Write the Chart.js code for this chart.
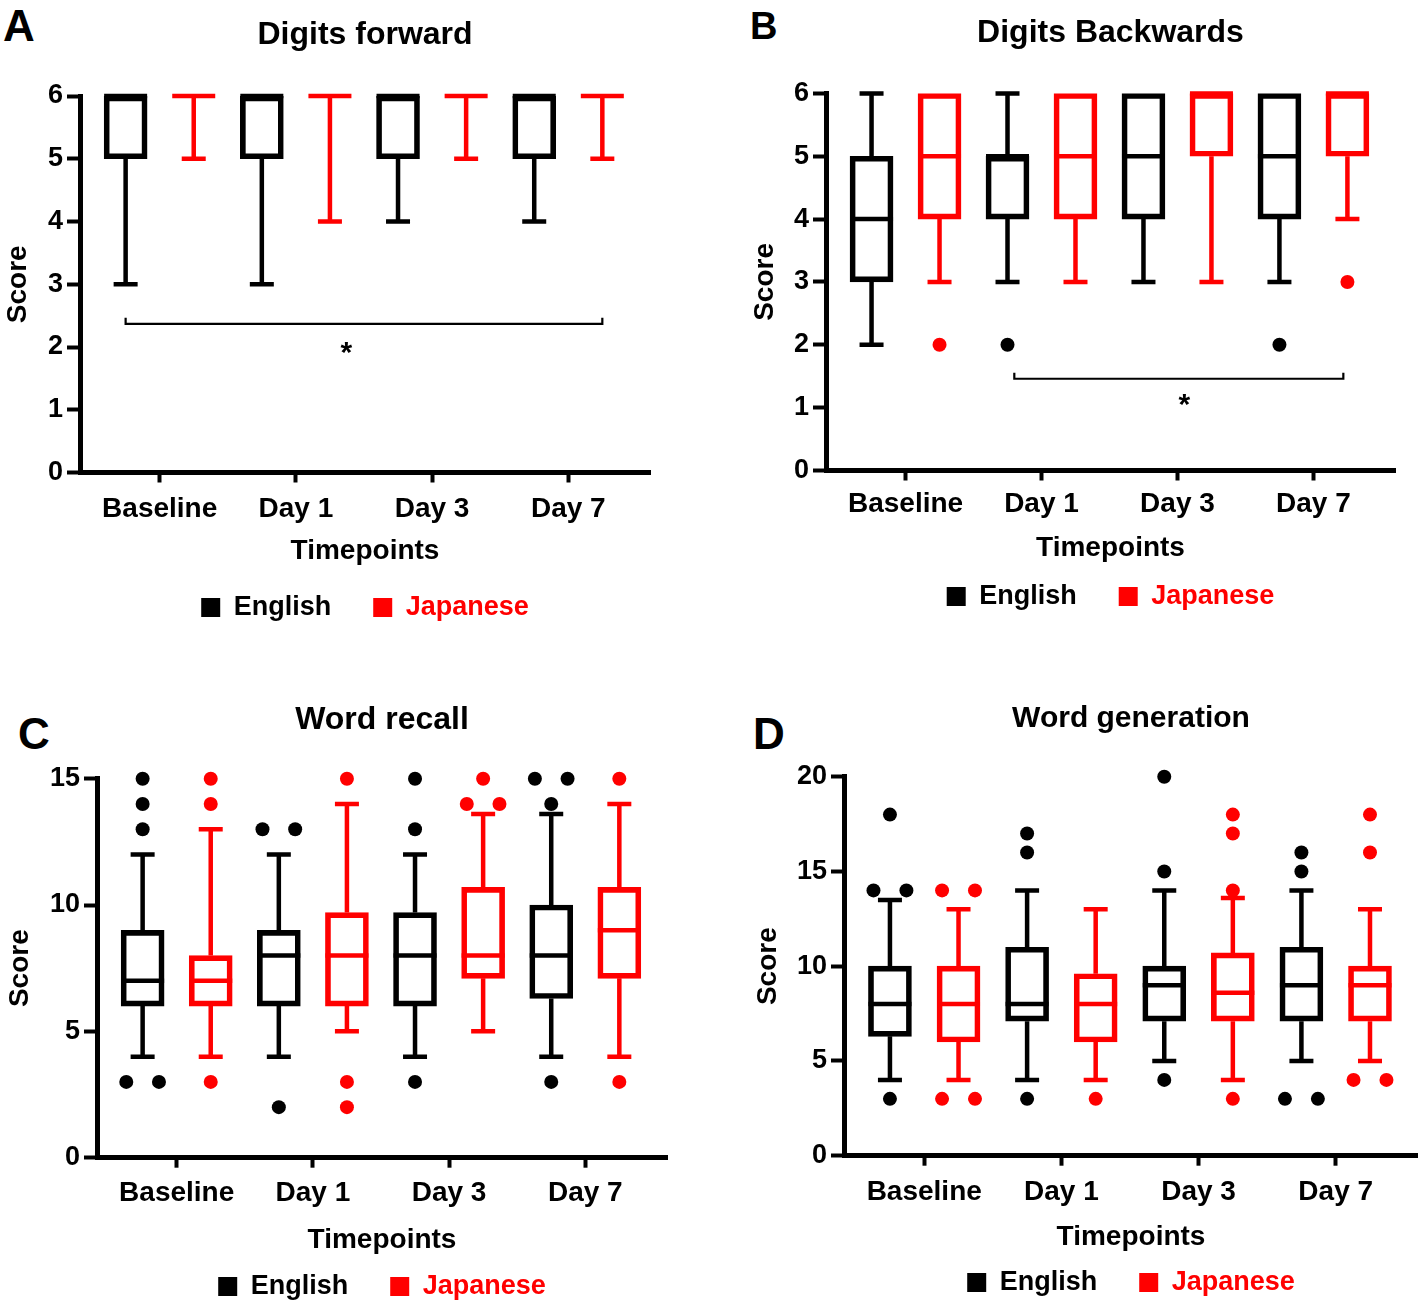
<!DOCTYPE html>
<html>
<head>
<meta charset="utf-8">
<script src="https://cdn.jsdelivr.net/npm/chart.js@4.4.1/dist/chart.umd.min.js"></script>
<style>
html, body { margin: 0; padding: 0; background: #fff; overflow: hidden; }
body { width: 1418px; height: 1301px; position: relative; font-family: 'Liberation Sans', Arial, sans-serif; }
canvas { position: absolute; }
.tag { position: absolute; font-weight: bold; line-height: 1; color: #000; }
</style>
</head>
<body>
<div class="tag" style="left:3px;top:4px;font-size:44px">A</div>
<div class="tag" style="left:750px;top:7px;font-size:38px">B</div>
<div class="tag" style="left:18px;top:712px;font-size:44px">C</div>
<div class="tag" style="left:753px;top:712px;font-size:44px">D</div>

<canvas id="chartA" width="730" height="631" style="left:0px;top:0px"></canvas>
<canvas id="chartB" width="731" height="620" style="left:745px;top:0px"></canvas>
<canvas id="chartC" width="764" height="650" style="left:0px;top:660px"></canvas>
<canvas id="chartD" width="766" height="646" style="left:748px;top:660px"></canvas>

<script>
// tick labels + groups
const timepoints = ['Baseline', 'Day 1', 'Day 3', 'Day 7'];
const groups = ['English', 'Japanese'];
const groupColors = ['#000000', '#ff0000'];

// every box is [min, q1, median, q3, max]
const forwardEnglish = [[3, 5, 6, 6, 6], [3, 5, 6, 6, 6], [4, 5, 6, 6, 6], [4, 5, 6, 6, 6]];
const forwardJapanese = [[5, 6, 6, 6, 6], [4, 6, 6, 6, 6], [5, 6, 6, 6, 6], [5, 6, 6, 6, 6]];
const forwardEnglishOut = [[], [], [], []];
const forwardJapaneseOut = [[], [], [], []];

const backwardEnglish = [[2, 3, 4, 5, 6], [3, 4, 5, 5, 6], [3, 4, 5, 6, 6], [3, 4, 5, 6, 6]];
const backwardJapanese = [[3, 4, 5, 6, 6], [3, 4, 5, 6, 6], [3, 5, 6, 6, 6], [4, 5, 6, 6, 6]];
const backwardEnglishOut = [[], [2], [], [2]];
const backwardJapaneseOut = [[2], [], [], [3]];

const recallEnglish = [[4, 6, 7, 9, 12], [4, 6, 8, 9, 12], [4, 6, 8, 9.7, 12], [4, 6.3, 8, 10, 13.6]];
const recallJapanese = [[4, 6, 7, 8, 13], [5, 6, 8, 9.7, 14], [5, 7.1, 8, 10.7, 13.6], [4, 7.1, 9, 10.7, 14]];
const recallEnglishOut = [[15, 14, 13, 3, 3], [13, 13, 2], [15, 13, 3], [15, 15, 14, 3]];
const recallJapaneseOut = [[15, 14, 3], [15, 3, 2], [15, 14, 14], [15, 3]];

const generationEnglish = [[4, 6.3, 8, 10, 13.5], [4, 7.1, 8, 11, 14], [5, 7.1, 9, 10, 14], [5, 7.1, 9, 11, 14]];
const generationJapanese = [[4, 6, 8, 10, 13], [4, 6, 8, 9.6, 13], [4, 7.1, 8.6, 10.7, 13.6], [5, 7.1, 9, 10, 13]];
const generationEnglishOut = [[18, 14, 14, 3], [17, 16, 3], [20, 15, 4], [16, 15, 3, 3]];
const generationJapaneseOut = [[14, 14, 3, 3], [3], [18, 17, 14, 3], [18, 16, 4, 4]];

const FONT = "'Liberation Sans', Arial, sans-serif";
const sides = [-0.25, 0.25];

// whiskers, medians, bracket
const boxExtras = {
  id: 'boxExtras',
  beforeDatasetsDraw(chart) {
    const ctx = chart.ctx, ys = chart.scales.y;
    ctx.save();
    chart.data.datasets.forEach((ds, di) => {
      if (!ds.boxes) return;
      const meta = chart.getDatasetMeta(di);
      ctx.strokeStyle = ds.borderColor;
      ctx.lineWidth = 4.5;
      meta.data.forEach((el, i) => {
        const b = ds.boxes[i];
        const x = el.x, half = el.width / 2, cap = 12;
        const pMin = ys.getPixelForValue(b[0]), pQ1 = ys.getPixelForValue(b[1]);
        const pMed = ys.getPixelForValue(b[2]);
        const pQ3 = ys.getPixelForValue(b[3]), pMax = ys.getPixelForValue(b[4]);
        ctx.beginPath();
        if (b[0] < b[1]) {
          ctx.moveTo(x, pQ1); ctx.lineTo(x, pMin);
          ctx.moveTo(x - cap, pMin); ctx.lineTo(x + cap, pMin);
        }
        if (b[4] > b[3]) {
          ctx.moveTo(x, pQ3); ctx.lineTo(x, pMax);
          ctx.moveTo(x - cap, pMax); ctx.lineTo(x + cap, pMax);
        }
        ctx.moveTo(x - half, pMed); ctx.lineTo(x + half, pMed);
        ctx.stroke();
      });
    });
    ctx.restore();
  },
  afterDatasetsDraw(chart, args, opts) {
    const br = opts.bracket;
    if (!br) return;
    const ctx = chart.ctx, xs = chart.scales.x, ys = chart.scales.y;
    const x1 = xs.getPixelForValue(br.from), x2 = xs.getPixelForValue(br.to);
    const yb = ys.getPixelForValue(br.y);
    ctx.save();
    ctx.strokeStyle = '#000';
    ctx.lineWidth = 2.2;
    ctx.beginPath();
    ctx.moveTo(x1, yb - 6); ctx.lineTo(x1, yb); ctx.lineTo(x2, yb); ctx.lineTo(x2, yb - 6);
    ctx.stroke();
    ctx.fillStyle = '#000';
    ctx.font = 'bold 30px ' + FONT;
    ctx.textAlign = 'center';
    ctx.textBaseline = 'alphabetic';
    ctx.fillText('*', xs.getPixelForValue(br.starX), ys.getPixelForValue(br.starY) + 17);
    ctx.restore();
  }
};

function panel(id, cfg) {
  const datasets = [];
  [cfg.english, cfg.japanese].forEach((boxes, g) => {
    datasets.push({
      type: 'bar',
      label: groups[g],
      boxes: boxes,
      data: boxes.map((b, i) => ({x: i + 1 + sides[g], y: [b[1], b[3]]})),
      backgroundColor: 'rgba(255,255,255,0)',
      borderColor: groupColors[g],
      borderWidth: 5,
      borderSkipped: false,
      barThickness: 43,
      grouped: false,
      yAxisID: 'y'
    });
  });
  [cfg.englishOut, cfg.japaneseOut].forEach((outs, g) => {
    const pts = [];
    outs.forEach((vals, i) => {
      vals.forEach((v, k) => {
        const same = vals.filter(w => w === v).length;
        const rank = vals.slice(0, k).filter(w => w === v).length;
        pts.push({x: i + 1 + sides[g] + (rank - (same - 1) / 2) * 0.24, y: v});
      });
    });
    datasets.push({
      type: 'scatter',
      label: groups[g] + ' outliers',
      data: pts,
      pointRadius: 7,
      pointBackgroundColor: groupColors[g],
      pointBorderWidth: 0,
      clip: false,
      yAxisID: 'y'
    });
  });

  const bold = size => ({family: FONT, size: size, weight: 'bold'});

  return new Chart(document.getElementById(id), {
    type: 'bar',
    data: {datasets: datasets},
    plugins: [boxExtras],
    options: {
      responsive: false,
      animation: false,
      events: [],
      layout: {padding: 0},
      plugins: {
        title: {
          display: true, text: cfg.title, color: '#000', font: bold(cfg.titleSize),
          padding: {top: cfg.titleTop, bottom: cfg.titleBottom}
        },
        legend: {
          position: 'bottom',
          labels: {
            font: bold(27), boxWidth: 19, boxHeight: 19, padding: 42,
            generateLabels: () => groups.map((g, i) => ({
              text: g, fillStyle: groupColors[i], strokeStyle: groupColors[i], lineWidth: 0,
              fontColor: groupColors[i], hidden: false, datasetIndex: i
            }))
          }
        },
        tooltip: {enabled: false},
        boxExtras: {bracket: cfg.bracket}
      },
      scales: {
        x: {
          type: 'linear', min: 0.415, max: 4.6, offset: false,
          afterBuildTicks: ax => { ax.ticks = timepoints.map((t, i) => ({value: i + 1})); },
          afterFit: ax => { ax.height = cfg.xHeight; },
          ticks: {autoSkip: false, maxRotation: 0, callback: v => timepoints[v - 1], color: '#000', font: bold(28), padding: cfg.xPad},
          grid: {display: true, drawOnChartArea: false, drawTicks: true, tickLength: 10, tickWidth: 4, tickColor: '#000', offset: false},
          border: {display: true, color: '#000', width: 5},
          title: {display: true, text: 'Timepoints', color: '#000', font: bold(28), padding: {top: 0, bottom: cfg.xTitlePad}}
        },
        y: {
          type: 'linear', position: 'left', min: 0, max: cfg.yMax,
          ticks: {stepSize: cfg.yStep, color: '#000', font: bold(27), padding: 4},
          grid: {drawOnChartArea: false, tickLength: 13, tickWidth: 4, tickColor: '#000'},
          border: {display: true, color: '#000', width: 5},
          title: {display: true, text: 'Score', color: '#000', font: bold(28), padding: {top: cfg.yTitlePad, bottom: 0}},
          afterFit: ax => { ax.width = cfg.side; }
        },
        yr: {
          type: 'linear', position: 'right', display: true,
          grid: {display: false}, border: {display: false}, ticks: {display: false},
          afterFit: ax => { ax.width = cfg.side; }
        }
      }
    }
  });
}

panel('chartA', {
  title: 'Digits forward', titleSize: 32, titleTop: 15.8, titleBottom: 41.8,
  english: forwardEnglish, japanese: forwardJapanese,
  englishOut: forwardEnglishOut, japaneseOut: forwardJapaneseOut,
  yMax: 6, yStep: 1, side: 80, yTitlePad: 1,
  xHeight: 79.5, xPad: 9.7, xTitlePad: -15.8,
  bracket: {from: 0.75, to: 4.25, y: 2.37, starX: 2.37, starY: 2.03}
});

panel('chartB', {
  title: 'Digits Backwards', titleSize: 32, titleTop: 13.8, titleBottom: 41.2,
  english: backwardEnglish, japanese: backwardJapanese,
  englishOut: backwardEnglishOut, japaneseOut: backwardJapaneseOut,
  yMax: 6, yStep: 1, side: 81, yTitlePad: 3,
  xHeight: 70.5, xPad: 6.7, xTitlePad: -23.8,
  bracket: {from: 1.8, to: 4.22, y: 1.46, starX: 3.05, starY: 1.17}
});

panel('chartC', {
  title: 'Word recall', titleSize: 32, titleTop: 40.8, titleBottom: 39.5,
  english: recallEnglish, japanese: recallJapanese,
  englishOut: recallEnglishOut, japaneseOut: recallJapaneseOut,
  yMax: 15, yStep: 5, side: 97, yTitlePad: 3,
  xHeight: 73.3, xPad: 9, xTitlePad: -26.3
});

panel('chartD', {
  title: 'Word generation', titleSize: 30, titleTop: 40.6, titleBottom: 40.1,
  english: generationEnglish, japanese: generationJapanese,
  englishOut: generationEnglishOut, japaneseOut: generationJapaneseOut,
  yMax: 20, yStep: 5, side: 96, yTitlePad: 3,
  xHeight: 71.3, xPad: 9.5, xTitlePad: -26.8
});
</script>
</body>
</html>
